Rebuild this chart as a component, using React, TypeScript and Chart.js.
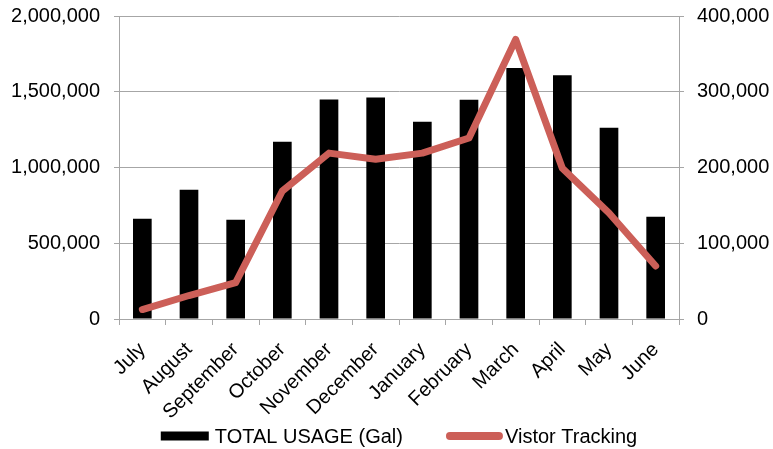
import { useEffect, useRef } from 'react';
import { Chart, registerables } from 'chart.js';

Chart.register(...registerables);

// Fiscal-year months, July through June
const months = [
  'July', 'August', 'September', 'October', 'November', 'December',
  'January', 'February', 'March', 'April', 'May', 'June',
];

// Water usage per month (gallons), left axis
const totalUsageGal = [
  661000, 853000, 655000, 1170000, 1449000, 1462000,
  1302000, 1447000, 1656000, 1609000, 1262000, 675000,
];

// Visitor counts per month, right axis
const visitorTracking = [
  12500, 31000, 48000, 169000, 219000, 211000,
  219000, 239000, 369000, 199000, 140000, 70000,
];

const usageAxisMax = 2000000;
const usageAxisStep = 500000;
const visitorAxisMax = 400000;
const visitorAxisStep = 100000;

const seriesNames = ['TOTAL USAGE (Gal)', 'Vistor Tracking'];

const FONT_FAMILY = '"Liberation Sans", Arial, Helvetica, sans-serif';
const GRID = '#a6a6a6';
const BAR = '#000000';
const LINE = '#cc5f58';

const fmt = (v: number | string) => Number(v).toLocaleString('en-US');

// Legend drawn under the x labels: a filled block for the bars, a thick rounded stroke for the line
const bottomLegend = {
  id: 'bottomLegend',
  afterDraw(chart: any) {
    const { ctx, chartArea } = chart;
    const y = 436;
    const boxW = 48;
    const boxH = 9;
    const lineW = 57;
    ctx.save();
    ctx.font = `20px ${FONT_FAMILY}`;
    ctx.textBaseline = 'middle';
    ctx.textAlign = 'left';
    const t1 = ctx.measureText(seriesNames[0]).width;
    const t2 = ctx.measureText(seriesNames[1]).width;
    const w1 = boxW + 6 + t1;
    const gap = 43;
    const w2 = lineW + 2 + t2;
    const total = w1 + gap + w2;
    let x = (chartArea.left + chartArea.right) / 2 - total / 2;

    ctx.fillStyle = BAR;
    ctx.fillRect(x, y - boxH / 2, boxW, boxH);
    ctx.fillStyle = '#000';
    ctx.fillText(seriesNames[0], x + boxW + 6, y + 1);

    x += w1 + gap;
    ctx.strokeStyle = LINE;
    ctx.lineWidth = 8;
    ctx.lineCap = 'round';
    ctx.beginPath();
    ctx.moveTo(x + 4, y);
    ctx.lineTo(x + lineW - 4, y);
    ctx.stroke();
    ctx.fillStyle = '#000';
    ctx.fillText(seriesNames[1], x + lineW + 2, y + 1);
    ctx.restore();
  },
};

// Fixed axis width; the plot's top edge is set by layout padding alone
const fixWidth = (w: number) => (s: any) => {
  s.width = w;
  s.paddingTop = 0;
  s.paddingBottom = 0;
};

export default function App() {
  const canvasRef = useRef<HTMLCanvasElement | null>(null);

  useEffect(() => {
    if (!canvasRef.current) return;
    const tickFont = { family: FONT_FAMILY, size: 20 };
    const chart = new Chart(canvasRef.current, {
      type: 'bar',
      data: {
        labels: months,
        datasets: [
          {
            type: 'bar',
            label: seriesNames[0],
            data: totalUsageGal,
            backgroundColor: BAR,
            yAxisID: 'yUsage',
            categoryPercentage: 1,
            barPercentage: 0.4,
            order: 1,
          },
          {
            type: 'line',
            label: seriesNames[1],
            data: visitorTracking,
            borderColor: LINE,
            backgroundColor: LINE,
            borderWidth: 7,
            borderCapStyle: 'round',
            borderJoinStyle: 'round',
            pointRadius: 0,
            tension: 0,
            yAxisID: 'yVisitors',
            order: 0,
          } as any,
        ],
      },
      options: {
        responsive: true,
        maintainAspectRatio: false,
        animation: false,
        layout: { padding: { top: 16, left: 0, right: 0, bottom: 0 } },
        plugins: {
          legend: { display: false },
          tooltip: { enabled: false },
        },
        scales: {
          x: {
            offset: true,
            grid: {
              offset: true,
              drawOnChartArea: false,
              drawTicks: true,
              tickLength: 6,
              color: GRID,
            },
            border: { color: GRID, width: 1 },
            ticks: {
              font: tickFont,
              color: '#000',
              minRotation: 45,
              maxRotation: 45,
              autoSkip: false,
              padding: 13,
            },
            afterFit: (s: any) => {
              s.height = 130;
              s.paddingLeft = 0;
              s.paddingRight = 0;
            },
          },
          yUsage: {
            position: 'left',
            min: 0,
            max: usageAxisMax,
            grid: { color: GRID, tickLength: 5 },
            border: { color: GRID, width: 1 },
            ticks: {
              stepSize: usageAxisStep,
              font: tickFont,
              color: '#000',
              padding: 14,
              callback: (v: any) => fmt(v),
            },
            afterFit: fixWidth(119),
          },
          yVisitors: {
            position: 'right',
            min: 0,
            max: visitorAxisMax,
            grid: { drawOnChartArea: false, color: GRID, tickLength: 5 },
            border: { color: GRID, width: 1 },
            ticks: {
              stepSize: visitorAxisStep,
              font: tickFont,
              color: '#000',
              padding: 13,
              callback: (v: any) => fmt(v),
            },
            afterFit: fixWidth(94),
          },
        },
      },
      plugins: [bottomLegend],
    });
    return () => chart.destroy();
  }, []);

  return (
    <div style={{ position: 'fixed', left: 0, top: 0, width: 773, height: 449, background: '#fff' }}>
      <canvas ref={canvasRef} />
    </div>
  );
}
